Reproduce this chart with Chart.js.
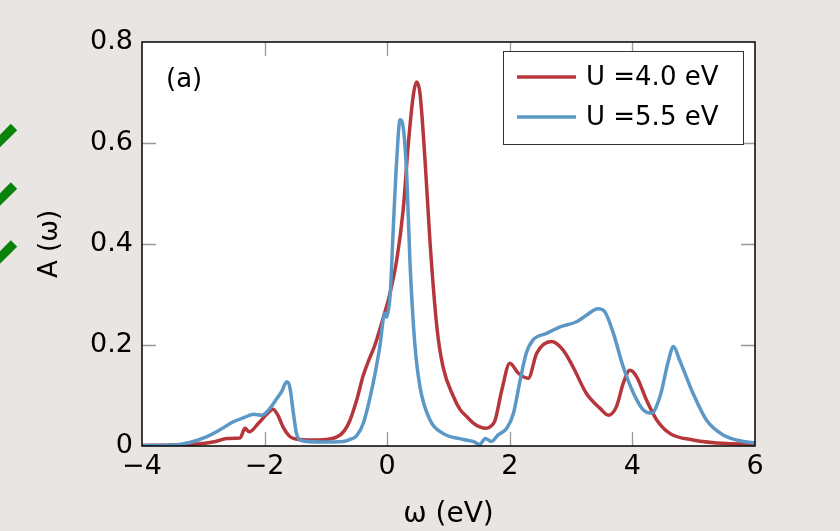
<!DOCTYPE html>
<html><head><meta charset="utf-8">
<script src="https://cdn.jsdelivr.net/npm/chart.js@4/dist/chart.umd.min.js"></script>
<style>
html,body{margin:0;padding:0;background:#e8e5e2;}
#wrap{width:840px;height:531px;position:relative;}
canvas{display:block;}
</style>
</head><body>
<div id="wrap"><canvas id="c" width="840" height="531" style="width:840px;height:531px"></canvas></div>
<script>
// ---- data ----
const seriesLabels = ['U =4.0 eV', 'U =5.5 eV'];
const panelLabel = '(a)';
const xTitle = 'ω (eV)';
const yTitle = 'A (ω)';
const xTicks = [-4, -2, 0, 2, 4, 6];
const yTicks = [0, 0.2, 0.4, 0.6, 0.8];

const omegaU40 = [-4, -3.5, -3.1, -2.8, -2.62, -2.40, -2.32, -2.25, -2.1, -1.95, -1.86, -1.78, -1.70, -1.60, -1.53, -1.3, -1.0,
  -0.82, -0.7, -0.61, -0.5, -0.39, -0.3, -0.2, -0.06, 0.02, 0.155, 0.26, 0.345, 0.43, 0.48, 0.535, 0.617, 0.70, 0.81, 0.91,
  1.08, 1.19, 1.30, 1.40, 1.51, 1.62, 1.70, 1.76, 1.87, 2.00, 2.14, 2.30, 2.44, 2.68, 2.87, 3.03, 3.25, 3.47, 3.61, 3.74,
  3.85, 3.96, 4.07, 4.23, 4.40, 4.61, 4.99, 5.54, 6.0];
const aU40 = [0.001, 0.002, 0.004, 0.009, 0.015, 0.016, 0.035, 0.028, 0.045, 0.065, 0.073, 0.060, 0.038, 0.020, 0.015, 0.012, 0.013,
  0.018, 0.030, 0.050, 0.090, 0.140, 0.170, 0.200, 0.256, 0.290, 0.368, 0.467, 0.599, 0.698, 0.721, 0.698, 0.566, 0.401, 0.236, 0.157,
  0.098, 0.072, 0.058, 0.046, 0.038, 0.035, 0.040, 0.051, 0.111, 0.164, 0.144, 0.134, 0.184, 0.207, 0.190, 0.157, 0.104, 0.075, 0.061, 0.078,
  0.124, 0.150, 0.137, 0.091, 0.051, 0.025, 0.012, 0.005, 0.004];

const omegaU55 = [-4, -3.5, -3.22, -2.95, -2.73, -2.51, -2.32, -2.18, -2.05, -1.91, -1.80, -1.72, -1.64, -1.59, -1.53, -1.48, -1.40,
  -1.1, -0.72, -0.61, -0.5, -0.39, -0.23, -0.12, -0.04, -0.01, 0.02, 0.05, 0.10, 0.155, 0.21, 0.26, 0.32, 0.37, 0.45, 0.535, 0.70,
  0.91, 1.24, 1.40, 1.51, 1.60, 1.70, 1.81, 1.95, 2.06, 2.17, 2.27, 2.38, 2.60, 2.82, 3.09, 3.25, 3.44, 3.55, 3.69, 3.85, 4.02,
  4.18, 4.31, 4.45, 4.59, 4.67, 4.77, 4.99, 5.21, 5.48, 5.81, 6.0];
const aU55 = [0.001, 0.002, 0.007, 0.018, 0.032, 0.048, 0.057, 0.063, 0.061, 0.075, 0.094, 0.108, 0.127, 0.117, 0.065, 0.025, 0.011,
  0.008, 0.009, 0.013, 0.020, 0.045, 0.124, 0.197, 0.263, 0.255, 0.270, 0.302, 0.434, 0.566, 0.646, 0.632, 0.533, 0.368, 0.203, 0.117, 0.051,
  0.025, 0.013, 0.009, 0.003, 0.015, 0.009, 0.022, 0.035, 0.065, 0.131, 0.184, 0.210, 0.223, 0.236, 0.246, 0.259, 0.272, 0.266, 0.223, 0.157, 0.104,
  0.071, 0.065, 0.098, 0.170, 0.197, 0.170, 0.104, 0.051, 0.022, 0.009, 0.006];

const colors = ['#b5373b', '#5b98c6'];
const FONT = "'DejaVu Sans', sans-serif";

const toPts = (xs, ys) => xs.map((x, i) => ({x, y: ys[i]}));

const decorPlugin = {
  id: 'decor',
  beforeDraw(chart) {
    const {ctx, chartArea: a} = chart;
    ctx.save();
    ctx.fillStyle = '#e8e5e2';
    ctx.fillRect(0, 0, chart.width, chart.height);
    ctx.fillStyle = '#ffffff';
    ctx.fillRect(a.left, a.top, a.right - a.left, a.bottom - a.top);
    // green check marks on the left edge
    ctx.strokeStyle = '#098309';
    ctx.lineWidth = 9;
    ctx.lineCap = 'butt';
    [135, 193.5, 251.5].forEach(cy => {
      ctx.beginPath();
      ctx.moveTo(-4, cy + 10);
      ctx.lineTo(14, cy - 8);
      ctx.stroke();
    });
    ctx.restore();
  },
  afterDatasetsDraw(chart) {
    const {ctx, chartArea: a, scales} = chart;
    ctx.save();
    // inward ticks
    ctx.strokeStyle = '#999999';
    ctx.lineWidth = 1.3;
    const tl = 14;
    xTicks.forEach(v => {
      const px = Math.round(scales.x.getPixelForValue(v)) + 0.5;
      if (px <= a.left + 1 || px >= a.right - 1) return;
      ctx.beginPath();
      ctx.moveTo(px, a.bottom); ctx.lineTo(px, a.bottom - tl);
      ctx.moveTo(px, a.top); ctx.lineTo(px, a.top + tl);
      ctx.stroke();
    });
    yTicks.forEach(v => {
      const py = Math.round(scales.y.getPixelForValue(v)) + 0.5;
      if (py <= a.top + 1 || py >= a.bottom - 1) return;
      ctx.beginPath();
      ctx.moveTo(a.left, py); ctx.lineTo(a.left + tl, py);
      ctx.moveTo(a.right, py); ctx.lineTo(a.right - tl, py);
      ctx.stroke();
    });
    // frame
    ctx.strokeStyle = '#000000';
    ctx.lineWidth = 1.5;
    ctx.strokeRect(a.left, a.top, a.right - a.left, a.bottom - a.top);

    // panel label
    ctx.fillStyle = '#000';
    ctx.font = '26px ' + FONT;
    ctx.textBaseline = 'middle';
    ctx.textAlign = 'left';
    ctx.fillText(panelLabel, 166, 80);

    // legend box
    const lx = 503.5, ly = 51.5, lw = 240, lh = 93;
    ctx.fillStyle = '#ffffff';
    ctx.fillRect(lx, ly, lw, lh);
    ctx.strokeStyle = '#333333';
    ctx.lineWidth = 1;
    ctx.strokeRect(lx, ly, lw, lh);
    const rows = [77, 117];
    seriesLabels.forEach((lab, i) => {
      ctx.strokeStyle = colors[i];
      ctx.lineWidth = 3.5;
      ctx.beginPath();
      ctx.moveTo(517, rows[i]); ctx.lineTo(576, rows[i]);
      ctx.stroke();
      ctx.fillStyle = '#000';
      ctx.font = '26px ' + FONT;
      ctx.textAlign = 'left';
      ctx.textBaseline = 'middle';
      ctx.fillText(lab, 586, rows[i] + 1);
    });

    // axis titles
    ctx.fillStyle = '#000';
    ctx.font = '28px ' + FONT;
    ctx.textAlign = 'center';
    ctx.textBaseline = 'middle';
    ctx.fillText(xTitle, (a.left + a.right) / 2, 515);
    ctx.font = '26px ' + FONT;
    ctx.translate(50, (a.top + a.bottom) / 2);
    ctx.rotate(-Math.PI / 2);
    ctx.fillText(yTitle, 0, 0);
    ctx.restore();
  }
};

const fmtX = v => (v < 0 ? '\u2212' + Math.abs(v) : String(v));
const fmtY = v => { const r = Math.round(v * 10) / 10; return r === 0 ? '0' : r.toFixed(1); };

new Chart(document.getElementById('c'), {
  type: 'line',
  data: {
    datasets: [
      {label: seriesLabels[1], data: toPts(omegaU55, aU55), borderColor: colors[1], borderWidth: 3.5,
       pointRadius: 0, cubicInterpolationMode: 'monotone', fill: false},
      {label: seriesLabels[0], data: toPts(omegaU40, aU40), borderColor: colors[0], borderWidth: 3.5,
       pointRadius: 0, cubicInterpolationMode: 'monotone', fill: false}
    ]
  },
  options: {
    responsive: false,
    animation: false,
    devicePixelRatio: 1,
    layout: {padding: {top: 42, right: 85, left: 0, bottom: 0}},
    plugins: {legend: {display: false}, tooltip: {enabled: false}},
    scales: {
      x: {
        type: 'linear', min: -4, max: 6,
        afterFit(s) { s.height = 85; },
        afterBuildTicks(s) { s.ticks = xTicks.map(v => ({value: v})); },
        grid: {display: false, drawTicks: false},
        border: {display: false},
        ticks: {color: '#000', font: {family: FONT, size: 27}, padding: 5, maxRotation: 0, autoSkip: false,
          callback: v => fmtX(v)}
      },
      y: {
        type: 'linear', min: 0, max: 0.8,
        afterFit(s) { s.width = 142; },
        afterBuildTicks(s) { s.ticks = yTicks.map(v => ({value: v})); },
        grid: {display: false, drawTicks: false},
        border: {display: false},
        ticks: {color: '#000', font: {family: FONT, size: 27}, padding: 9, autoSkip: false,
          callback: v => fmtY(v)}
      }
    }
  },
  plugins: [decorPlugin]
});
</script>
</body></html>
